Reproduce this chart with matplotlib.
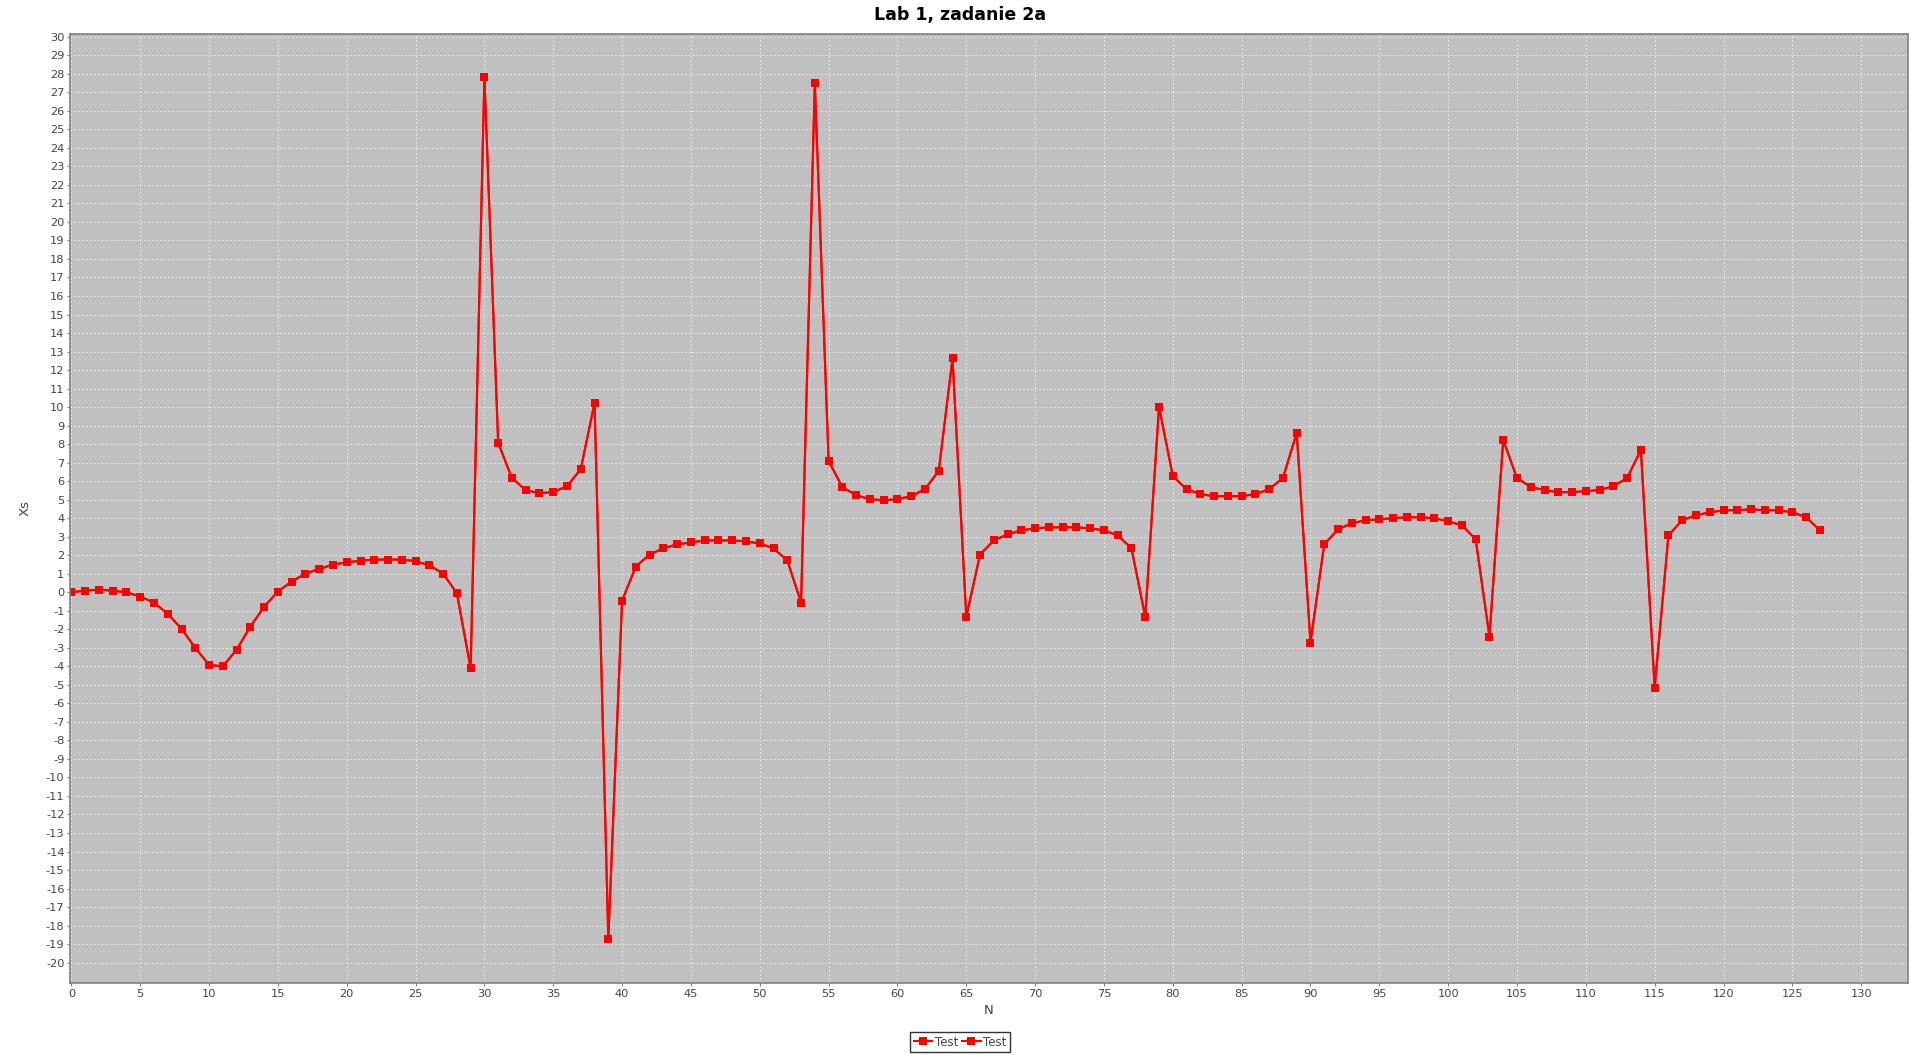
import matplotlib
matplotlib.use("Agg")
import matplotlib.pyplot as plt
import numpy as np

title = "Lab 1, zadanie 2a"
x_label = "N"
y_label = "Xs"
series_labels = ["Test", "Test"]

xs_values = [
    0.00, 0.09, 0.14, 0.09, 0.00, -0.23, -0.56, -1.16, -1.97, -3.00,
    -3.92, -4.00, -3.10, -1.86, -0.78, 0.04, 0.58, 1.01, 1.26, 1.50,
    1.61, 1.71, 1.77, 1.77, 1.77, 1.68, 1.46, 1.01, -0.05, -4.11,
    27.84, 8.07, 6.17, 5.52, 5.35, 5.41, 5.73, 6.65, 10.23, -18.72,
    -0.45, 1.39, 2.04, 2.37, 2.59, 2.69, 2.80, 2.80, 2.80, 2.75,
    2.64, 2.37, 1.72, -0.56, 27.51, 7.09, 5.68, 5.24, 5.03, 4.97,
    5.03, 5.19, 5.57, 6.55, 12.63, -1.32, 2.04, 2.80, 3.13, 3.35,
    3.45, 3.51, 3.51, 3.51, 3.45, 3.35, 3.07, 2.37, -1.32, 10.02,
    6.27, 5.57, 5.30, 5.19, 5.19, 5.19, 5.30, 5.57, 6.17, 8.61,
    -2.72, 2.59, 3.40, 3.73, 3.89, 3.94, 4.00, 4.05, 4.05, 4.00,
    3.83, 3.62, 2.86, -2.40, 8.23, 6.17, 5.68, 5.52, 5.41, 5.41,
    5.46, 5.52, 5.73, 6.17, 7.69, -5.15, 3.07, 3.89, 4.16, 4.32,
    4.43, 4.43, 4.48, 4.43, 4.43, 4.32, 4.05, 3.35,
]
n_values = list(range(len(xs_values)))

x_ticks = list(range(0, 131, 5))
y_ticks = list(range(-20, 31, 1))

plt.rcParams['font.family'] = ['DejaVu Sans']
plt.rcParams['axes.unicode_minus'] = False

fig = plt.figure(figsize=(19.2, 10.55), dpi=100)
ax = fig.add_axes([70/1920, 1-983/1055, (1908-70)/1920, (983-34)/1055])
ax.set_facecolor("#c0c0c0")

for lab in series_labels:
    ax.plot(n_values, xs_values, color="#ff0000", linewidth=1.5,
            marker="s", markersize=5.4, markeredgewidth=0, label=lab)

ax.set_xlim(-0.1, 133.4)
ax.set_ylim(-21.1, 30.15)
ax.set_xticks(x_ticks)
ax.set_yticks(y_ticks)
ax.grid(True, color="#e4e4e4", linestyle=(0, (2, 2)), linewidth=0.7)
ax.set_axisbelow(True)

for s in ax.spines.values():
    s.set_color("#808080")
    s.set_linewidth(1.2)

ax.tick_params(axis="both", colors="#808080", labelcolor="#444444",
               labelsize=8.2, length=2, width=0.8, pad=2)

ax.set_xlabel(x_label, fontsize=9.5, color="#444444", labelpad=4)
ax.set_ylabel(y_label, fontsize=9.5, color="#444444", labelpad=10)

fig.text(0.5, 1-15/1055, title, ha="center", va="center",
         fontsize=12.5, fontweight="bold", color="black")

leg = fig.legend(loc="center", bbox_to_anchor=(0.5, 1-1042/1055), ncol=2,
                 fontsize=8.5, frameon=True, fancybox=False, edgecolor="black",
                 handlelength=1.6, handletextpad=0.2, columnspacing=0.3,
                 borderpad=0.3, borderaxespad=0)
leg.get_frame().set_linewidth(1.0)
for t in leg.get_texts():
    t.set_color("#444444")

fig.savefig("out.png", dpi=100)
